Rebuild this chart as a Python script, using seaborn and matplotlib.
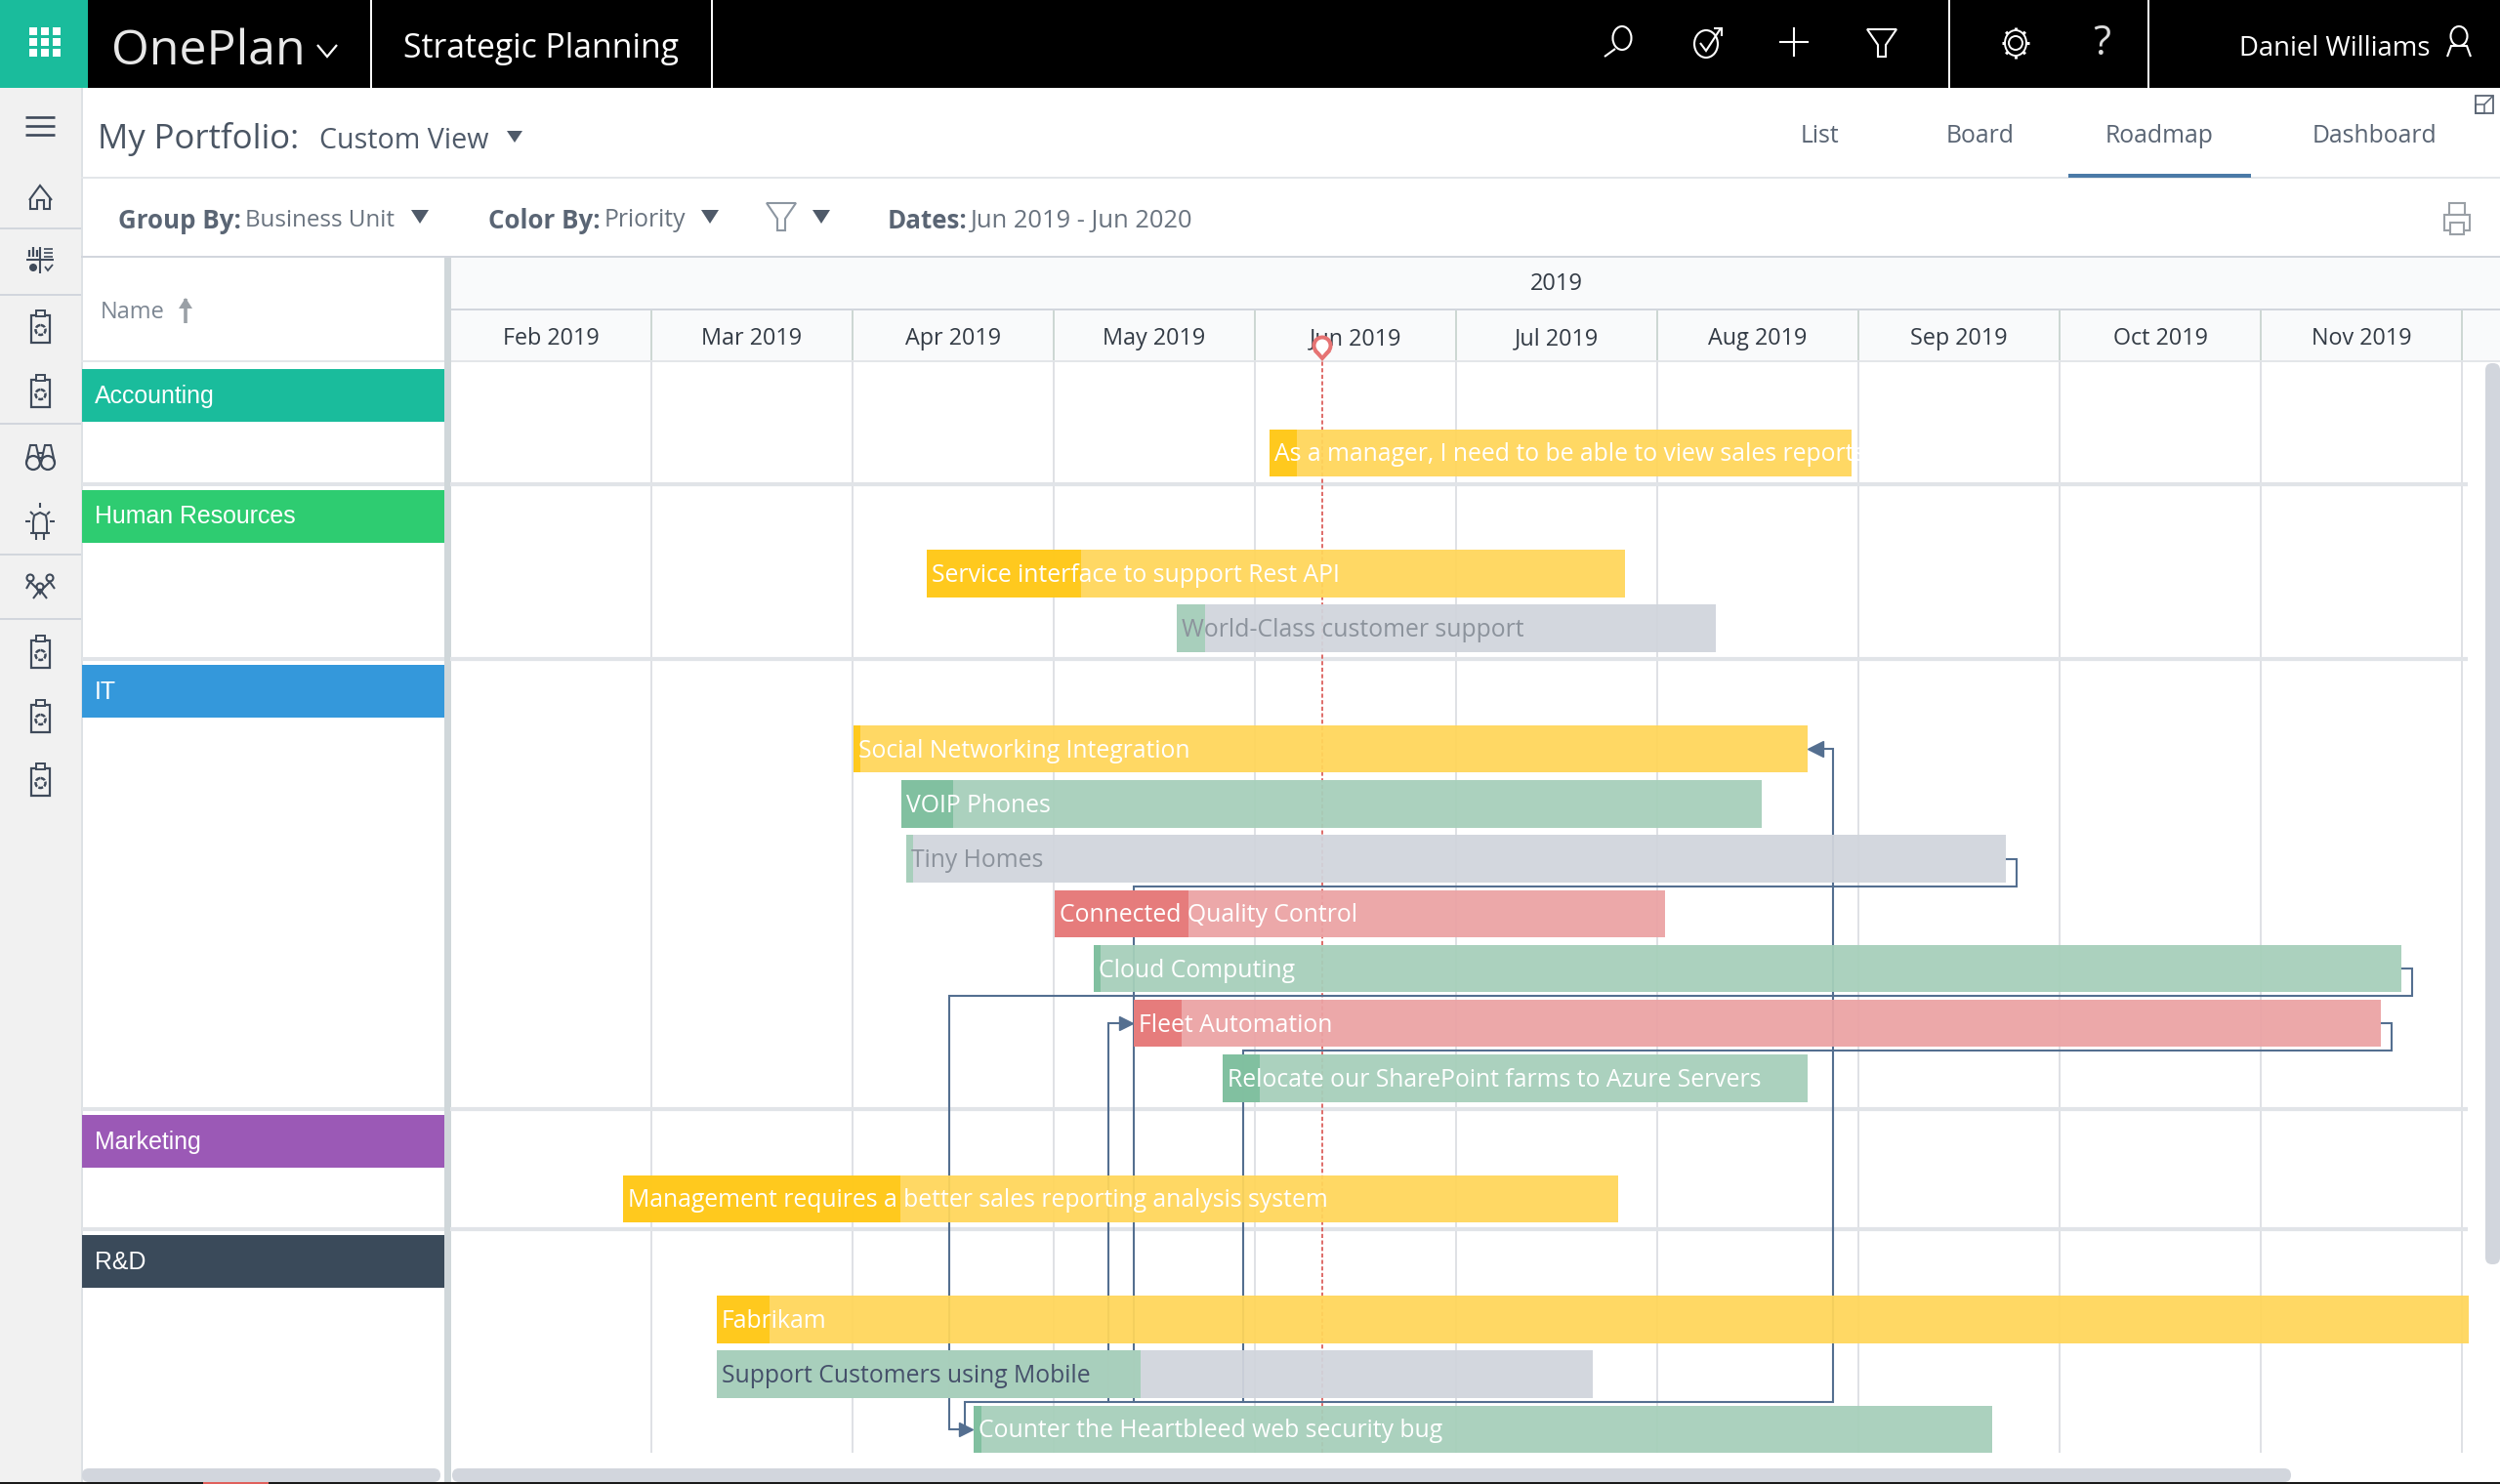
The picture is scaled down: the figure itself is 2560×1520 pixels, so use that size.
import numpy as np
import pandas as pd
import matplotlib
matplotlib.use("Agg")
import matplotlib.pyplot as plt
from matplotlib.patches import Rectangle, Circle, Polygon, Ellipse, FancyBboxPatch
import seaborn as sns

# ---------- data ----------
years = ["2019"]
months = ["Feb 2019", "Mar 2019", "Apr 2019", "May 2019", "Jun 2019", "Jul 2019",
          "Aug 2019", "Sep 2019", "Oct 2019", "Nov 2019"]
groups = ["Accounting", "Human Resources", "IT", "Marketing", "R&D"]
group_sizes = [1, 2, 7, 1, 3]
tasks = ["As a manager, I need to be able to view sales reports",
         "Service interface to support Rest API", "World-Class customer support",
         "Social Networking Integration", "VOIP Phones", "Tiny Homes",
         "Connected Quality Control", "Cloud Computing", "Fleet Automation",
         "Relocate our SharePoint farms to Azure Servers",
         "Management requires a better sales reporting analysis system",
         "Fabrikam", "Support Customers using Mobile", "Counter the Heartbleed web security bug"]
# dates are expressed in month columns after the start of Feb 2019
start = [4.073, 2.369, 3.612, 2.003, 2.243, 2.267, 3.005, 3.199, 3.396, 3.840, 0.859, 1.325, 1.325, 2.602]
progress = [4.209, 3.136, 3.752, 2.039, 2.500, 2.303, 3.670, 3.233, 3.636, 4.024, 2.238, 1.587, 3.432, 2.641]
end = [6.966, 5.840, 6.291, 6.748, 6.519, 7.733, 6.039, 9.699, 9.597, 6.748, 5.806, 10.034, 5.680, 7.665]
priority = ["high", "high", "none", "high", "low", "none", "crit", "low", "crit", "low", "high", "high", "none", "low"]
today = 4.335

# ---------- styles ----------
LIGHT = {"high": "#FFD65A", "low": "#A6CFBA", "none": "#D1D5DC", "crit": "#EBA3A4"}
DARK = {"high": "#FFC91A", "low": "#7FBF9F", "none": "#A6CFBA", "crit": "#E67A7A"}
INK = {"high": "white", "low": "white", "none": "#8C939C", "crit": "white"}
GROUP_COL = ["#1ABC9C", "#2ECC71", "#3498DB", "#9B59B6", "#3A4A5A"]
ICON = "#3F4A5A"
LINE = "#D2D6DD"
WIRE = "#546F90"
MW = 206.0          # pixels per month column
X0 = 461.0

sns.set_theme(style="white")
plt.rcParams["font.family"] = ["Open Sans", "DejaVu Sans"]

fig = plt.figure(figsize=(25.6, 15.2), dpi=100, facecolor="white")
ui = fig.add_axes([0, 0, 1, 1], zorder=1)
ui.set_xlim(0, 2560); ui.set_ylim(1520, 0); ui.axis("off"); ui.set_autoscale_on(False)

def R(x0, y0, x1, y1, c, z=1, **k):
    ui.add_patch(Rectangle((x0, y0), x1 - x0, y1 - y0, fc=c, ec="none", zorder=z, **k))
def RR(x0, y0, x1, y1, c, rad=7, z=3):
    ui.add_patch(FancyBboxPatch((x0 + rad, y0 + rad), x1 - x0 - 2 * rad, y1 - y0 - 2 * rad,
                                boxstyle=f"round,pad={rad},rounding_size={rad}", fc=c, ec="none", zorder=z))
def L(xs, ys, c=ICON, lw=1.5, z=5):
    ui.plot(xs, ys, color=c, lw=lw, zorder=z, solid_capstyle="butt", solid_joinstyle="miter")
def T(x, y, s, size, c, ha="left", weight="normal", family="Open Sans", z=6):
    return ui.text(x, y, s, fontsize=size, color=c, ha=ha, va="center", fontweight=weight,
                   family=[family, "DejaVu Sans"], zorder=z)
def caret(x, y, c="#4F5A69", w=9, h=7):
    ui.add_patch(Polygon([(x - w, y - h), (x + w, y - h), (x, y + h)], fc=c, ec="none", zorder=6))
def funnel(x, y, c, s=1.0, lw=1.5):
    ui.add_patch(Polygon([(x - 15*s, y - 14*s), (x + 15*s, y - 14*s), (x + 4*s, y + 2*s), (x + 4*s, y + 14*s),
                          (x - 4*s, y + 14*s), (x - 4*s, y + 2*s)], fc="none", ec=c, lw=lw, zorder=6))

# ---------- app chrome ----------
R(0, 0, 2560, 90, "black")
R(0, 0, 90, 90, "#1ABC9C", 2)
for i in range(3):
    for j in range(3):
        R(30 + 12*i, 28 + 11*j, 38 + 12*i, 36 + 11*j, "white", 3)
for x in [379.5, 729, 1995.5, 2200]:
    L([x, x], [0, 90], "white", 1.4)
T(114, 53, "OnePlan", 36, "#E8E8E8")
L([325, 335, 345], [46, 58, 46], "white", 1.6)
T(413, 50, "Strategic Planning", 24.3, "white")
T(2293, 50, "Daniel Williams", 19.8, "white")
# top bar icons
ui.add_patch(Ellipse((1661, 39), 19, 24, fc="none", ec="white", lw=1.5, zorder=6))
L([1654, 1643], [50, 58], "white")
ui.add_patch(Ellipse((1747, 45), 24, 28, fc="none", ec="white", lw=1.5, zorder=6))
L([1741, 1747, 1762], [44, 52, 29], "white")
L([1755, 1763, 1763], [29, 29, 37], "white")
L([1837, 1837], [28, 58], "white"); L([1822, 1852], [43, 43], "white")
funnel(1927, 44, "white")
ui.add_patch(Circle((2064, 44), 7, fc="none", ec="white", lw=1.4, zorder=6))
ui.add_patch(Ellipse((2064, 44), 22, 26, fc="none", ec="white", lw=1.4, zorder=6))
for a in np.deg2rad(np.arange(0, 360, 45)):
    L([2064 + 11*np.cos(a), 2064 + 14*np.cos(a)], [44 + 13*np.sin(a), 44 + 16*np.sin(a)], "white", 2.2)
T(2152, 45, "?", 30, "#DDDDDD", ha="center")
ui.add_patch(Ellipse((2518, 37), 17, 20, fc="none", ec="white", lw=1.5, zorder=6))
L([2506, 2510, 2526, 2530], [58, 47, 47, 58], "white")

# sidebar
R(0, 90, 83, 1520, "#F1F1F1")
R(83, 90, 85, 1520, "#DDE1E5")
for y in [234, 302, 434, 568, 634]:
    R(0, y - 1, 83, y + 1, LINE, 2)
for y in [120, 129, 138]:
    L([26, 56], [y, y], ICON, 1.9)
# home
L([30, 41, 53], [205, 190, 205]); L([31, 31, 38, 38, 45, 45, 51, 51], [203, 214, 214, 205, 205, 214, 214, 203])
# quadrant
L([41, 41], [253, 280]); L([27, 55], [266, 266])
for x, h in [(30, 7), (34, 10), (38, 7)]:
    L([x, x], [263, 263 - h], ICON, 1.6)
for y in [255, 259, 263]:
    L([45, 54], [y, y], ICON, 1.2)
ui.add_patch(Circle((34, 274), 4, fc=ICON, ec="none", zorder=6))
L([46, 49, 54], [273, 277, 271], ICON, 1.3)
def clipboard(y):
    ui.add_patch(Rectangle((32, y - 13), 19, 28, fc="none", ec=ICON, lw=1.6, zorder=6))
    ui.add_patch(Rectangle((37, y - 18), 9, 6, fc="#F1F1F1", ec=ICON, lw=1.4, zorder=6))
    ui.add_patch(Circle((41.5, y + 2), 5, fc="none", ec=ICON, lw=1.8, ls=(0, (2, 0.6)), zorder=6))
for y in [336, 402, 669, 735, 800]:
    clipboard(y)
# binoculars
for x in [34, 49]:
    ui.add_patch(Circle((x, 474), 7, fc="none", ec=ICON, lw=1.6, zorder=6))
    L([x - 7, x - 3, x + 3, x + 7], [474, 456, 456, 474])
L([38, 45], [464, 464]); L([38, 45], [469, 469])
# beacon
L([34, 34, 35, 41, 47, 48, 48], [546, 534, 528, 525, 528, 534, 546])
L([31, 51], [546, 546]); L([37, 37], [546, 553]); L([45, 45], [546, 553])
L([41, 41], [515, 520]); L([26, 31], [534, 534]); L([51, 56], [534, 534])
L([31, 34], [524, 527]); L([51, 48], [524, 527])
# people
for x, y in [(31, 592), (51, 592), (41, 601)]:
    ui.add_patch(Circle((x, y), 3.5, fc="none", ec=ICON, lw=1.5, zorder=6))
L([27, 31, 37], [603, 596, 602]); L([45, 51, 56], [602, 596, 603]); L([34, 41, 48], [613, 604, 613])
L([36, 41, 46], [600, 608, 600])

# view header
T(100, 142, "My Portfolio:", 25, "#4A5563")
T(327, 145, "Custom View", 20.6, "#4F5A69")
caret(527, 140, w=8, h=6)
for cx, s in [(1864, "List"), (2028, "Board"), (2211, "Roadmap"), (2431, "Dashboard")]:
    T(cx, 140, s, 17.8, "#5A6574", ha="center")
R(2118, 178, 2305, 181.5, "#4A7AA7", 3)
R(83, 181, 2560, 183, "#E3E6E9")
ui.add_patch(Rectangle((2535, 98), 18, 18, fc="none", ec="#5A6574", lw=1.3, zorder=6))
ui.add_patch(Rectangle((2535, 107), 9, 9, fc="none", ec="#5A6574", lw=1.1, zorder=6))
L([2544, 2553], [107, 98], "#5A6574", 1.1)

# filter row
T(121, 226, "Group By:", 18.6, "#5A6574", weight="bold")
T(251, 226, "Business Unit", 17.4, "#69737F")
caret(430, 222)
T(500, 226, "Color By:", 18.6, "#5A6574", weight="bold")
T(619, 226, "Priority", 17.8, "#69737F")
caret(727, 222)
funnel(800, 222, "#8C96A1", 1.0)
caret(841, 222)
T(909, 226, "Dates:", 18.6, "#5A6574", weight="bold")
T(993, 226, "Jun 2019 - Jun 2020", 18.4, "#69737F")
# printer
for box in [(2508, 208, 16, 12), (2503, 220, 26, 16), (2509, 228, 14, 12)]:
    ui.add_patch(Rectangle(box[:2], box[2], box[3], fc="white", ec="#9AA0A6", lw=1.5, zorder=6))

# grid headers
R(83, 262, 2560, 264, LINE, 3)
R(462, 264, 2560, 370, "#F9FAFB")
R(462, 316, 2560, 318, LINE, 3)
R(83, 369, 2560, 371, "#E3E6E9", 3)
T(103, 320, "Name", 17, "#7C8692")
L([190, 190], [306, 331], "#9AA0A6", 2.6)
ui.add_patch(Polygon([(183, 316), (197, 316), (190, 305)], fc="#9AA0A6", ec="none", zorder=6))
T(X0 + 5.5 * MW, 291, years[0], 17, "#333B45", ha="center")
R(455, 264, 462, 1518, "#D0D7DA", 3)
RR(2545, 372, 2560, 1295, LINE)
RR(84, 1504, 451, 1518, LINE)
RR(463, 1504, 2346, 1518, LINE)
R(0, 1518, 2560, 1520, "#1A1A1A", 4)
R(208, 1518, 275, 1520, "#E0605C", 5)

# ---------- gantt axes ----------
TOP, BOT, RIGHT = 370.0, 1488.0, 2545.0
ax = fig.add_axes([X0 / 2560, 1 - BOT / 1520, (RIGHT - X0) / 2560, (BOT - TOP) / 1520], zorder=2)
ax.patch.set_alpha(0)

# rows follow from the group structure
PITCH, BAR_H = 56.2, 48.5
row_y, head_y, sep_y = [], [], []
y = 405.0
for n in group_sizes:
    head_y.append(y)
    cur = y + 59
    for k in range(n):
        row_y.append(cur)
        cur += PITCH
    last = row_y[-1]
    sep_y.append(last + 31.5)
    y = sep_y[-1] + 33
row_y = np.array(row_y)
df = pd.DataFrame({"task": tasks, "start": start, "progress": progress, "end": end,
                   "priority": priority, "y": row_y})
df["dur"] = df["end"] - df["start"]
df["done"] = df["progress"] - df["start"]
lane = df.y.iloc[-1] - 27.5
px = 1 / MW

for gname, hy, c in zip(groups, head_y, GROUP_COL):
    R(84, hy - 27, 455, hy + 27, c, 3)
    T(97, hy + 1, gname, 17.9, "white", family="Liberation Sans")

# separators and gridlines
seps = [s for s in sep_y[:-1]]
ax.hlines(seps, 0, (2527 - X0) * px, color="#E1E4E8", lw=3, zorder=1)
for s in seps:
    R(84, s - 2, 455, s + 2, "#E1E4E8", 2)
ax.axvline(today, color="#D9534F", lw=1.2, ls=(0, (2.5, 1.5)), zorder=2)

# dependency connectors (drawn under the translucent bars)
ix = {t: i for i, t in enumerate(tasks)}
tiny, cloud, fleet, reloc, social, counter = [ix[k] for k in
    ["Tiny Homes", "Cloud Computing", "Fleet Automation",
     "Relocate our SharePoint farms to Azure Servers", "Social Networking Integration",
     "Counter the Heartbleed web security bug"]]
def wire(xs, ys):
    ax.plot(xs, ys, color=WIRE, lw=1.5, zorder=2, solid_joinstyle="miter", clip_on=False)
def route_finish(i, tx, ty):
    e, yy = end[i], row_y[i]
    out = e + 11 * px
    wire([e, out, out, tx, tx], [yy, yy, yy + 28, yy + 28, ty])
route_finish(tiny, start[fleet], lane)
route_finish(fleet, start[reloc] + 21 * px, lane)
cx = start[counter] - 25 * px
route_finish(cloud, cx, row_y[counter])
wire([cx, start[counter] - 6 * px], [row_y[counter]] * 2)
ex = end[social] + 26 * px
bx = start[counter] - 9 * px
wire([bx, bx, ex, ex, end[social] + 8 * px],
     [row_y[counter], lane, lane, row_y[social], row_y[social]])
fx = start[fleet] - 26 * px
wire([fx, fx, start[fleet] - 6 * px], [lane, row_y[fleet], row_y[fleet]])
ax.plot([end[social] + 8 * px], [row_y[social]], marker="<", ms=11, color=WIRE, zorder=2, ls="none")
ax.plot([start[fleet] - 8 * px], [row_y[fleet]], marker=">", ms=10, color=WIRE, zorder=2, ls="none")
ax.plot([start[counter] - 8 * px], [row_y[counter]], marker=">", ms=10, color=WIRE, zorder=2, ls="none")

# bars
for _, r in df.iterrows():
    sns.barplot(x=[r.dur], y=[r.y], orient="y", native_scale=True, width=BAR_H, left=r.start,
                color=LIGHT[r.priority], saturation=1, alpha=0.94, errorbar=None, legend=False,
                ax=ax, zorder=3, linewidth=0)
    bar = ax.patches[-1]
    sns.barplot(x=[r.done], y=[r.y], orient="y", native_scale=True, width=BAR_H, left=r.start,
                color=DARK[r.priority], saturation=1, alpha=0.94, errorbar=None, legend=False,
                ax=ax, zorder=3.1, linewidth=0)
    ink = "#45506A" if r.task.startswith("Support") else INK[r.priority]
    t = ax.text(r.start + 5 * px, r.y + 2, r.task, color=ink, fontsize=17.8, va="center", ha="left", zorder=4)
    t.set_clip_path(bar)

ax.set_xlim(0, (RIGHT - X0) * px)
ax.set_ylim(BOT, TOP)
ax.set_xlabel(""); ax.set_ylabel("")
ax.set_yticks([])
ax.set_xticks(np.arange(len(months)) + 0.5, months)
ax.set_xticks(np.arange(1, len(months) + 1), minor=True)
ax.grid(False)
ax.grid(which="minor", axis="x", color="#DFE1E5", lw=1.4, zorder=0)
ax.set_axisbelow(True)
ax.xaxis.tick_top()
ax.tick_params(axis="x", which="both", length=0, pad=8, labelsize=16.8, labelcolor="#333B45")
sns.despine(ax=ax, left=True, bottom=True, top=True, right=True)

# month dividers in the header row and today's pin
for m in range(1, len(months) + 1):
    xx = X0 + m * MW
    L([xx, xx], [318, 369], "#C5D0CC", 1.2, z=3)
tx = X0 + today * MW
ui2 = fig.add_axes([0, 0, 1, 1], zorder=3)
ui2.set_xlim(0, 2560); ui2.set_ylim(1520, 0); ui2.axis("off"); ui2.patch.set_alpha(0)
ui2.add_patch(Polygon([(tx - 9, 360), (tx + 9, 360), (tx, 370)], fc="#E67373", ec="none"))
ui2.add_patch(Circle((tx, 354), 10.5, fc="#E67373", ec="none"))
ui2.add_patch(Polygon([(tx - 5, 358), (tx + 5, 358), (tx, 364)], fc="white", ec="none"))
ui2.add_patch(Circle((tx, 354), 6.5, fc="white", ec="none"))

fig.savefig("out.png", dpi=100)
